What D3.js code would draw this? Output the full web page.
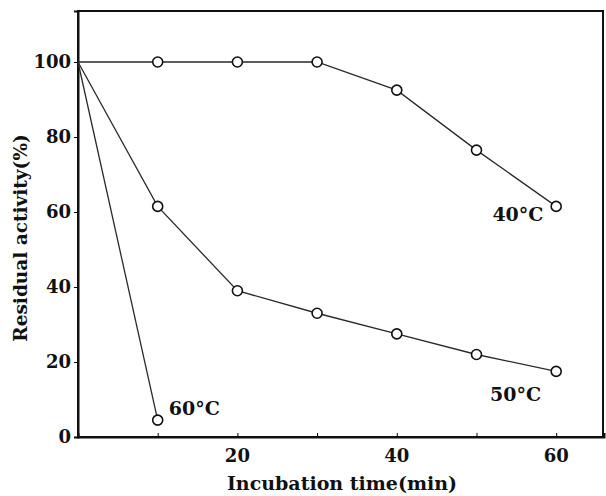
<!DOCTYPE html>
<html>
<head>
<meta charset="utf-8">
<script src="https://cdn.jsdelivr.net/npm/d3@7"></script>
<style>
  body { margin: 0; background: #fff; }
  svg text { font-family: "DejaVu Serif", "Liberation Serif", serif; font-weight: bold; fill: #111; }
</style>
</head>
<body>
<div id="app"></div>
<script>
// incubation times (min)
const times = [0, 10, 20, 30, 40, 50, 60]
const times60 = [0, 10]
// residual activity (%)
const act40 = [100, 100, 100, 100, 92.5, 76.5, 61.5]
const act50 = [100, 61.5, 39, 33, 27.5, 22, 17.5]
const act60 = [100, 4.5]
const seriesLabels = ['40°C', '50°C', '60°C']
const yTicks = [0, 20, 40, 60, 80, 100]
const xTicks = [10, 20, 30, 40, 50, 60]
const xTickLabels = [20, 40, 60]

const width = 606
const height = 496
const margin = {left: 78, right: 2, top: 11, bottom: 59}

const svg = d3.select('#app').append('svg')
    .attr('width', width)
    .attr('height', height)

const xScale = d3.scaleLinear().domain([0, 66]).range([margin.left, width - margin.right])
const yScale = d3.scaleLinear().domain([0, 113.6]).range([height - margin.bottom, margin.top])

// frame
svg.append('rect')
    .attr('x', margin.left)
    .attr('y', margin.top)
    .attr('width', width - margin.right - margin.left - 1)
    .attr('height', height - margin.bottom - margin.top)
    .attr('fill', 'none')
    .attr('stroke', '#111')
    .attr('stroke-width', 2)

// y axis
const yAxis = svg.append('g')
    .attr('transform', `translate(${margin.left},0)`)
    .call(d3.axisLeft(yScale).tickValues(yTicks).tickSize(4).tickPadding(3))
yAxis.select('.domain').attr('stroke', '#111').attr('stroke-width', 2)
yAxis.selectAll('text').style('font-size', '18px')

// x axis (ticks pointing inward)
const xAxis = svg.append('g')
    .attr('transform', `translate(0,${height - margin.bottom})`)
    .call(d3.axisTop(xScale).tickValues(xTicks).tickSize(4).tickFormat(''))
xAxis.select('.domain').attr('stroke', '#111').attr('stroke-width', 2)

svg.append('g').selectAll('text')
    .data(xTickLabels).enter().append('text')
    .attr('x', d => xScale(d))
    .attr('y', height - margin.bottom + 25)
    .attr('text-anchor', 'middle')
    .style('font-size', '18px')
    .text(d => d)

// axis titles
svg.append('text')
    .attr('transform', `translate(27,238) rotate(-90)`)
    .attr('text-anchor', 'middle')
    .style('font-size', '18.5px')
    .text('Residual activity(%)')

svg.append('text')
    .attr('x', 342)
    .attr('y', 490)
    .attr('text-anchor', 'middle')
    .style('font-size', '19px')
    .text('Incubation time(min)')

// series
const series = [
    {name: seriesLabels[0], data: times.map((t, i) => ({t: t, v: act40[i]}))},
    {name: seriesLabels[1], data: times.map((t, i) => ({t: t, v: act50[i]}))},
    {name: seriesLabels[2], data: times60.map((t, i) => ({t: t, v: act60[i]}))}
]

const line = d3.line()
    .x(d => xScale(d.t))
    .y(d => yScale(d.v))

svg.selectAll('path.series')
    .data(series).enter()
    .append('path')
    .attr('class', 'series')
    .attr('fill', 'none')
    .attr('stroke', '#2a2a2a')
    .attr('stroke-width', 1.3)
    .attr('d', d => line(d.data))

for (const s of series) {
    svg.append('g').selectAll('circle')
        .data(s.data.filter(d => d.t > 0))
        .enter().append('circle')
        .attr('cx', d => xScale(d.t))
        .attr('cy', d => yScale(d.v))
        .attr('r', 5)
        .attr('fill', '#fff')
        .attr('stroke', '#111')
        .attr('stroke-width', 1.6)
}

// series labels (positions in data units)
const labelPos = [
    {t: 55.2, v: 57.6},
    {t: 54.9, v: 9.5},
    {t: 14.6, v: 5.8}
]
svg.append('g').selectAll('text')
    .data(seriesLabels).enter().append('text')
    .attr('x', (d, i) => xScale(labelPos[i].t))
    .attr('y', (d, i) => yScale(labelPos[i].v))
    .attr('text-anchor', 'middle')
    .style('font-size', '19px')
    .text(d => d)
</script>
</body>
</html>
